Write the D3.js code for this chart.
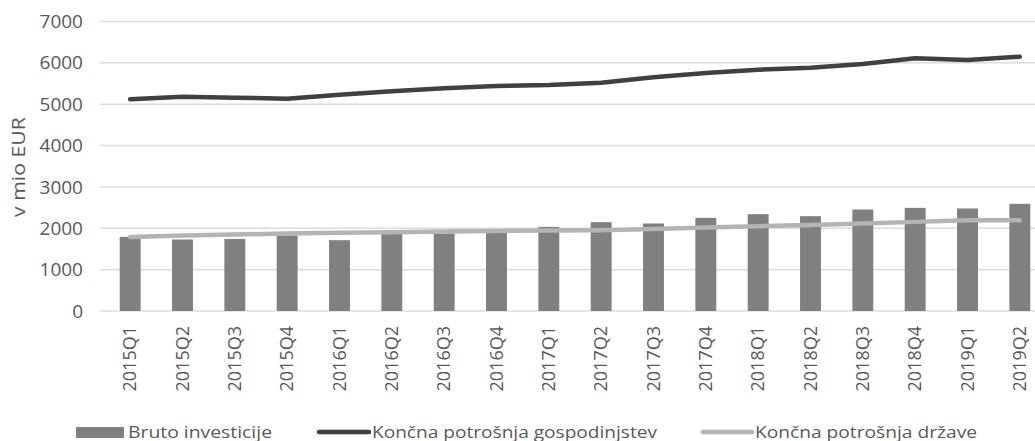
<!DOCTYPE html>
<html>
<head>
<meta charset="utf-8">
<script src="https://cdn.jsdelivr.net/npm/d3@7"></script>
<style>
  html, body { margin: 0; padding: 0; background: #fff; overflow: hidden; }
  svg { display: block; font-family: "Open Sans", "Noto Sans", sans-serif; }
</style>
</head>
<body>
<svg id="chart" width="1035" height="441"></svg>
<script>
// Quarterly categories
const quarters = ["2015Q1","2015Q2","2015Q3","2015Q4","2016Q1","2016Q2","2016Q3","2016Q4",
  "2017Q1","2017Q2","2017Q3","2017Q4","2018Q1","2018Q2","2018Q3","2018Q4","2019Q1","2019Q2"];

// Gross investment (bars), mio EUR
const brutoInvesticije = [1792,1729,1743,1826,1712,1874,1874,1889,2034,2148,2116,2252,2341,2293,2455,2494,2479,2591];

// Household final consumption (dark line), mio EUR
const potrosnjaGospodinjstev = [5119,5182,5157,5133,5230,5312,5385,5441,5465,5521,5651,5755,5835,5884,5973,6111,6070,6150];

// Government final consumption (light line), mio EUR
const potrosnjaDrzave = [1792,1824,1850,1874,1890,1906,1922,1937,1945,1954,1985,2019,2051,2082,2116,2155,2196,2196];

// Y axis ticks
const yTicks = [0,1000,2000,3000,4000,5000,6000,7000];

const legendLabels = ["Bruto investicije", "Končna potrošnja gospodinjstev", "Končna potrošnja države"];

const svg = d3.select("#chart");
const textColor = "#595959";

const x = d3.scaleBand().domain(quarters).range([104, 1046]).paddingInner(0.6).paddingOuter(0.3);
const y = d3.scaleLinear().domain([0, 7000]).range([311, 21.5]);

// Gridlines
svg.append("g")
  .selectAll("line")
  .data(yTicks)
  .join("line")
  .attr("x1", 100).attr("x2", 1046)
  .attr("y1", d => y(d)).attr("y2", d => y(d))
  .attr("stroke", "#dcdcdc").attr("stroke-width", 1.5);

// Y axis labels
const yAxis = svg.append("g")
  .attr("transform", "translate(83,0)")
  .call(d3.axisLeft(y).tickValues(yTicks).tickSize(0).tickPadding(0).tickFormat(d3.format("d")));
yAxis.select(".domain").remove();
yAxis.selectAll("text")
  .attr("fill", textColor)
  .attr("font-size", 19)
  .attr("font-family", "Open Sans, sans-serif");

// Y axis title
svg.append("text")
  .attr("transform", "translate(25,167) rotate(-90)")
  .attr("text-anchor", "middle")
  .attr("fill", textColor)
  .attr("font-size", 18)
  .attr("textLength", 100)
  .attr("lengthAdjust", "spacingAndGlyphs")
  .text("v mio EUR");

// X axis labels (rotated)
const xAxis = svg.append("g")
  .attr("transform", "translate(0,326)")
  .call(d3.axisBottom(x).tickSize(0).tickPadding(0));
xAxis.select(".domain").remove();
xAxis.selectAll("text")
  .attr("fill", textColor)
  .attr("font-size", 18)
  .attr("font-family", "Open Sans, sans-serif")
  .attr("text-anchor", "end")
  .attr("dy", "0.35em")
  .attr("transform", "rotate(-90)")
  .attr("x", 0).attr("y", 0);
// rotate around each tick position
xAxis.selectAll(".tick text").attr("transform", "rotate(-90)");

// Bars
svg.append("g")
  .selectAll("rect")
  .data(quarters)
  .join("rect")
  .attr("x", d => x(d))
  .attr("width", x.bandwidth())
  .attr("y", (d, i) => y(brutoInvesticije[i]))
  .attr("height", (d, i) => y(0) - y(brutoInvesticije[i]))
  .attr("fill", "#808080");

const cx = d => x(d) + x.bandwidth() / 2;

// Government consumption line
svg.append("path")
  .datum(potrosnjaDrzave)
  .attr("fill", "none")
  .attr("stroke", "#b4b4b4")
  .attr("stroke-width", 4.5)
  .attr("stroke-linecap", "round")
  .attr("stroke-linejoin", "round")
  .attr("d", d3.line().x((d, i) => cx(quarters[i])).y(d => y(d)));

// Household consumption line
svg.append("path")
  .datum(potrosnjaGospodinjstev)
  .attr("fill", "none")
  .attr("stroke", "#404040")
  .attr("stroke-width", 4.5)
  .attr("stroke-linecap", "round")
  .attr("stroke-linejoin", "round")
  .attr("d", d3.line().x((d, i) => cx(quarters[i])).y(d => y(d)));

// Legend
const legend = svg.append("g").attr("font-size", 17).attr("fill", textColor);
legend.append("rect").attr("x", 76).attr("y", 427).attr("width", 48).attr("height", 11).attr("fill", "#808080");
legend.append("text").attr("x", 128).attr("y", 437.5).attr("fill", textColor)
  .attr("textLength", 144).attr("lengthAdjust", "spacingAndGlyphs").text(legendLabels[0]);

legend.append("line").attr("x1", 319).attr("x2", 369).attr("y1", 432).attr("y2", 432)
  .attr("stroke", "#404040").attr("stroke-width", 4.5).attr("stroke-linecap", "round");
legend.append("text").attr("x", 372).attr("y", 437.5).attr("fill", textColor)
  .attr("textLength", 285).attr("lengthAdjust", "spacingAndGlyphs").text(legendLabels[1]);

legend.append("line").attr("x1", 703).attr("x2", 752).attr("y1", 432).attr("y2", 432)
  .attr("stroke", "#b4b4b4").attr("stroke-width", 4.5).attr("stroke-linecap", "round");
legend.append("text").attr("x", 755).attr("y", 437.5).attr("fill", textColor)
  .attr("textLength", 222).attr("lengthAdjust", "spacingAndGlyphs").text(legendLabels[2]);
</script>
</body>
</html>
